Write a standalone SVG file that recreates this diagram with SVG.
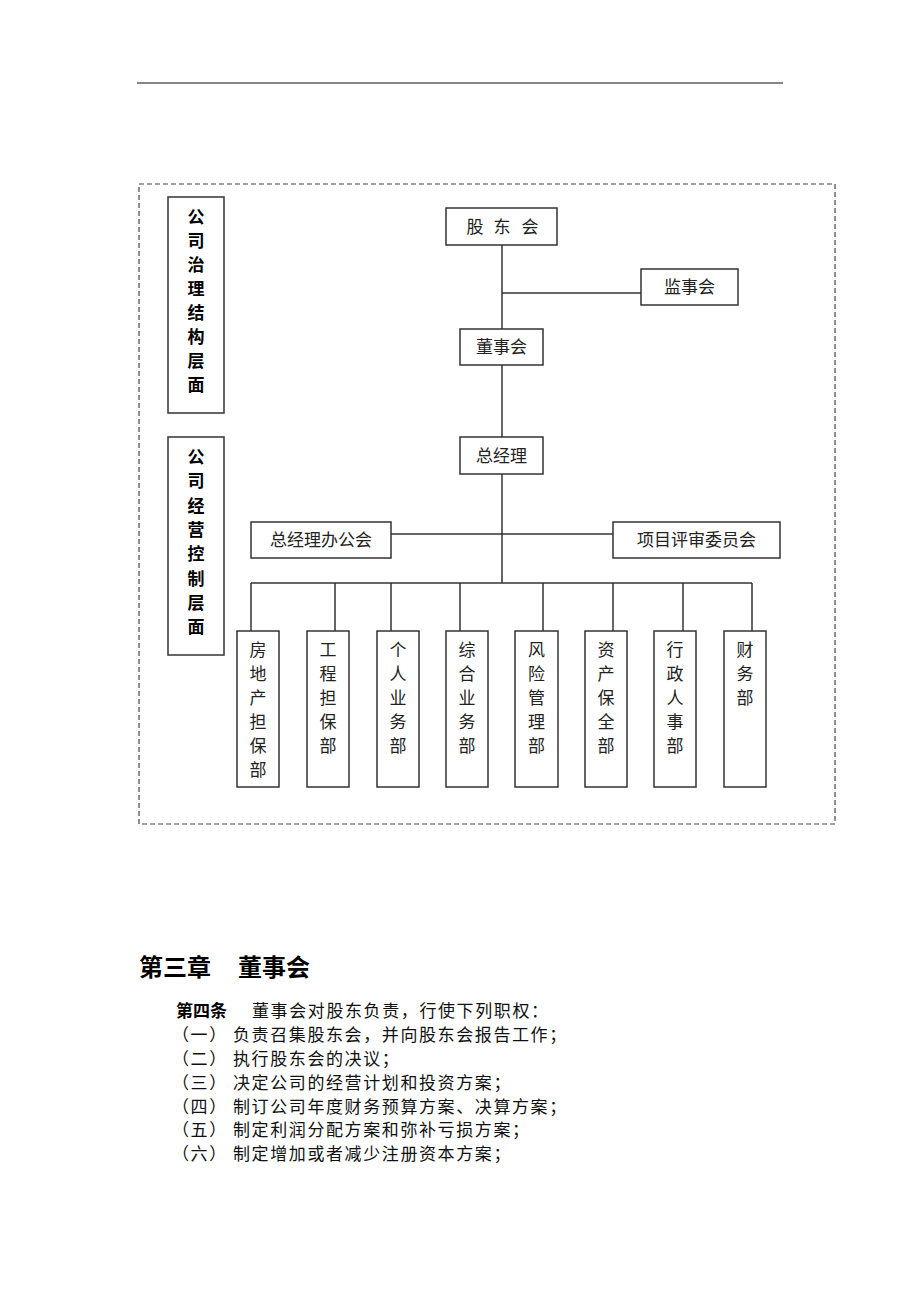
<svg xmlns="http://www.w3.org/2000/svg" width="920" height="1302" viewBox="0 0 920 1302">
<style>
.bx{fill:#fff;stroke:#333;stroke-width:1.5}
.ln{fill:none;stroke:#333;stroke-width:1.5}
.t{font-family:"Liberation Serif","Noto Sans CJK SC",serif;font-size:17px;fill:#222;text-anchor:middle;dominant-baseline:central}
.lt{font-family:"Noto Sans CJK SC",sans-serif;font-size:17px;font-weight:bold;fill:#000;text-anchor:middle;dominant-baseline:central}
.p{font-family:"Liberation Serif","Noto Sans CJK SC",serif;font-size:17px;fill:#111;letter-spacing:1.6px}
.pb{font-family:"Noto Sans CJK SC",sans-serif;font-weight:bold;fill:#000}
</style>
<rect width="920" height="1302" fill="#fff"/>
<line x1="137" y1="83" x2="783" y2="83" stroke="#111" stroke-width="1.2"/>
<rect x="139" y="184" width="696" height="640" fill="none" stroke="#444" stroke-width="1.2" stroke-dasharray="5,3"/>

<g id="connectors">
<polyline class="ln" points="502,245 502,329"/>
<polyline class="ln" points="502,293 641,293"/>
<polyline class="ln" points="502,365 502,437"/>
<polyline class="ln" points="502,474 502,583"/>
<polyline class="ln" points="391,534 613,534"/>
<polyline class="ln" points="251,583 752,583"/>
<line class="ln" x1="251" y1="583" x2="251" y2="631"/>
<line class="ln" x1="335" y1="583" x2="335" y2="631"/>
<line class="ln" x1="391" y1="583" x2="391" y2="631"/>
<line class="ln" x1="460" y1="583" x2="460" y2="631"/>
<line class="ln" x1="543" y1="583" x2="543" y2="631"/>
<line class="ln" x1="613" y1="583" x2="613" y2="631"/>
<line class="ln" x1="683" y1="583" x2="683" y2="631"/>
<line class="ln" x1="752" y1="583" x2="752" y2="631"/>
</g>

<g id="layer-governance">
<rect class="bx" x="168" y="197" width="56" height="216"/>
<text class="lt"><tspan x="196" y="215">公</tspan><tspan x="196" y="239">司</tspan><tspan x="196" y="263">治</tspan><tspan x="196" y="287">理</tspan><tspan x="196" y="311">结</tspan><tspan x="196" y="335">构</tspan><tspan x="196" y="359">层</tspan><tspan x="196" y="383">面</tspan></text>
</g>
<g id="layer-operation">
<rect class="bx" x="168" y="437" width="56" height="218"/>
<text class="lt"><tspan x="196" y="455">公</tspan><tspan x="196" y="479">司</tspan><tspan x="196" y="504">经</tspan><tspan x="196" y="528">营</tspan><tspan x="196" y="552">控</tspan><tspan x="196" y="577">制</tspan><tspan x="196" y="601">层</tspan><tspan x="196" y="625">面</tspan></text>
</g>

<g id="shareholders">
<rect class="bx" x="446" y="208" width="111" height="37"/>
<text class="t"><tspan x="475" y="227">股</tspan><tspan x="502" y="227">东</tspan><tspan x="530" y="227">会</tspan></text>
</g>
<g id="supervisors">
<rect class="bx" x="641" y="269" width="97" height="36"/>
<text class="t" x="689.5" y="287">监事会</text>
</g>
<g id="board">
<rect class="bx" x="460" y="329" width="83" height="36"/>
<text class="t" x="501.5" y="347">董事会</text>
</g>
<g id="gm">
<rect class="bx" x="460" y="437" width="83" height="37"/>
<text class="t" x="501.5" y="456">总经理</text>
</g>
<g id="gm-office">
<rect class="bx" x="251" y="522" width="140" height="36"/>
<text class="t" x="321" y="540">总经理办公会</text>
</g>
<g id="review-committee">
<rect class="bx" x="613" y="522" width="167" height="36"/>
<text class="t" x="696.5" y="540">项目评审委员会</text>
</g>

<g id="dept1">
<rect class="bx" x="237" y="631" width="42" height="156"/>
<text class="t"><tspan x="258" y="650">房</tspan><tspan x="258" y="674">地</tspan><tspan x="258" y="698">产</tspan><tspan x="258" y="722">担</tspan><tspan x="258" y="746">保</tspan><tspan x="258" y="770">部</tspan></text>
</g>
<g id="dept2">
<rect class="bx" x="307" y="631" width="42" height="156"/>
<text class="t"><tspan x="328" y="650">工</tspan><tspan x="328" y="674">程</tspan><tspan x="328" y="698">担</tspan><tspan x="328" y="722">保</tspan><tspan x="328" y="746">部</tspan></text>
</g>
<g id="dept3">
<rect class="bx" x="377" y="631" width="42" height="156"/>
<text class="t"><tspan x="398" y="650">个</tspan><tspan x="398" y="674">人</tspan><tspan x="398" y="698">业</tspan><tspan x="398" y="722">务</tspan><tspan x="398" y="746">部</tspan></text>
</g>
<g id="dept4">
<rect class="bx" x="446" y="631" width="42" height="156"/>
<text class="t"><tspan x="467" y="650">综</tspan><tspan x="467" y="674">合</tspan><tspan x="467" y="698">业</tspan><tspan x="467" y="722">务</tspan><tspan x="467" y="746">部</tspan></text>
</g>
<g id="dept5">
<rect class="bx" x="515" y="631" width="43" height="156"/>
<text class="t"><tspan x="536.5" y="650">风</tspan><tspan x="536.5" y="674">险</tspan><tspan x="536.5" y="698">管</tspan><tspan x="536.5" y="722">理</tspan><tspan x="536.5" y="746">部</tspan></text>
</g>
<g id="dept6">
<rect class="bx" x="585" y="631" width="42" height="156"/>
<text class="t"><tspan x="606" y="650">资</tspan><tspan x="606" y="674">产</tspan><tspan x="606" y="698">保</tspan><tspan x="606" y="722">全</tspan><tspan x="606" y="746">部</tspan></text>
</g>
<g id="dept7">
<rect class="bx" x="654" y="631" width="42" height="156"/>
<text class="t"><tspan x="675" y="650">行</tspan><tspan x="675" y="674">政</tspan><tspan x="675" y="698">人</tspan><tspan x="675" y="722">事</tspan><tspan x="675" y="746">部</tspan></text>
</g>
<g id="dept8">
<rect class="bx" x="724" y="631" width="42" height="156"/>
<text class="t"><tspan x="745" y="650">财</tspan><tspan x="745" y="674">务</tspan><tspan x="745" y="698">部</tspan></text>
</g>

<g id="body-text">
<text class="pb" font-size="24" x="139" y="976">第三章</text>
<text class="pb" font-size="24" x="238" y="976">董事会</text>
<text class="pb" font-size="17" x="176" y="1017">第四条</text>
<text class="p" x="252" y="1017">董事会对股东负责，行使下列职权：</text>
<text class="p" x="172" y="1041">（一）</text><text class="p" x="233" y="1041">负责召集股东会，并向股东会报告工作；</text>
<text class="p" x="172" y="1065">（二）</text><text class="p" x="233" y="1065">执行股东会的决议；</text>
<text class="p" x="172" y="1089">（三）</text><text class="p" x="233" y="1089">决定公司的经营计划和投资方案；</text>
<text class="p" x="172" y="1113">（四）</text><text class="p" x="233" y="1113">制订公司年度财务预算方案、决算方案；</text>
<text class="p" x="172" y="1136">（五）</text><text class="p" x="233" y="1136">制定利润分配方案和弥补亏损方案；</text>
<text class="p" x="172" y="1160">（六）</text><text class="p" x="233" y="1160">制定增加或者减少注册资本方案；</text>
</g>
</svg>
